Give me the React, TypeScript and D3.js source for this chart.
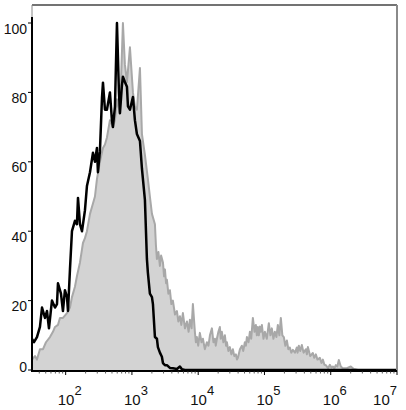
import React from "react";
import * as d3 from "d3";

// Histogram bins: log10(fluorescence intensity) and % of max
const grayLog10 = [1.492,1.537,1.567,1.612,1.658,1.703,1.763,1.808,1.839,1.884,1.914,1.959,2.02,2.065,2.095,2.14,2.17,2.216,2.261,2.291,2.321,2.367,2.412,2.442,2.472,2.517,2.563,2.593,2.623,2.668,2.713,2.744,2.774,2.819,2.864,2.894,2.925,2.97,3.015,3.045,3.075,3.121,3.151,3.196,3.241,3.271,3.302,
  3.347,3.362,3.377,3.4,3.422,3.44,3.468,3.485,3.498,3.515,3.528,3.55,3.573,3.595,3.618,3.65,3.679,3.7,3.724,3.745,3.769,3.8,3.83,3.855,3.875,3.9,3.92,3.95,3.965,3.98,4.0,4.025,4.05,4.071,4.1,4.131,4.155,4.177,4.207,4.23,4.252,4.265,4.282,4.305,4.327,4.34,4.357,4.38,4.403,4.42,4.433,4.455,4.478,4.5,4.523,4.545,4.569,4.585,4.599,4.63,4.659,4.68,4.704,4.72,4.735,4.76,4.78,4.8,4.825,4.85,4.87,4.885,4.9,4.915,4.931,4.945,4.961,4.985,5.006,5.035,5.066,5.09,5.111,5.135,5.157,5.18,5.202,5.225,5.247,5.27,5.292,5.315,5.338,5.36,5.383,5.405,5.428,5.46,5.489,5.5,5.519,5.54,5.564,5.59,5.624,5.64,5.655,5.69,5.73,5.75,5.775,5.8,5.836,5.86,5.881,5.905,5.926,5.96,5.987,6.01,6.032,6.055,6.077,6.1,6.122,6.152,6.182,6.243,6.303,6.348,6.409,7.0];
const grayPct = [3,4,3,6,6,8,9.5,11,12.4,13,15,15,16.4,18,21,24,27,31,36.6,38,40,45,48,50,55,60,64,65,67,72,70,72,78,74,100,88,83,93,80,76,75,87,68,62,55,50,45,
  42,36,32,34,30,33,31,27,29,25,26,22,23,19,20,16,17,14,15.5,13,16.4,12,14,11,14.5,12,19,11,8,9.5,7,10.7,8,9,6,8,7,10,12,8,9,7,9,11,12.4,9,11,8,10,7,8,5.5,6.6,4.5,6,4,4.5,3,3.5,6,7,5.5,8,7,9.5,8,11,9,15,11,13,10,12.4,10,12.5,11,13,9,11,9,13.5,10,12,9,11,9.5,13,10,15,10,9.5,7,8.5,6,6.5,5,5.8,5,6.5,5,7,5.5,7.2,5,6,4.5,6.6,4,4.9,3.5,4.5,3,3.5,2,3,1.5,1.4,0.5,1.5,0.7,1,0.5,1.4,1,2.9,1,0.5,0.5,1,0.3,0,0];

const blackLog10 = [1.492,1.522,1.567,1.612,1.643,1.688,1.718,1.748,1.793,1.839,1.869,1.884,1.929,1.959,1.989,2.02,2.035,2.065,2.095,2.14,2.17,2.186,2.216,2.246,2.291,2.321,2.367,2.412,2.442,2.472,2.487,2.517,2.548,2.563,2.593,2.623,2.668,2.698,2.713,2.744,2.774,2.804,2.819,2.849,2.864,2.894,2.925,2.94,2.97,3.015,3.045,3.075,3.121,3.151,3.196,3.226,3.241,3.271,3.302,3.317,3.347,3.377,3.392,3.422,3.452,3.468,3.498,3.528,3.573,3.618,3.679,3.724,3.754,3.799,7.0];
const blackPct = [9,8,9.5,12.4,18,15,17,12,20,18,19,25,22,17,23,21,17,29,40,43,42,49.6,42,40,46,53,57,62.6,60,64,57,63,78.4,82.8,75,75,80,72,70,76,100,80,74,82,84.5,83,81.6,76,75,78.7,72,68,66,58,49,32,28,22,21,19,9.5,9,6.6,5,3.8,2,1.4,1.4,0.6,0.5,0.3,1,0.2,0,0];

const yTicks = [0, 20, 40, 60, 80, 100];
const xDecades = [2, 3, 4, 5, 6, 7];

const W = 406, H = 410;
const L = 32, R = 397, T = 5, B = 371;

export default function App() {
  const x = d3.scaleLog().domain([Math.pow(10, 1.492), 1e7]).range([L, R]);
  const y = d3.scaleLinear().domain([0, 100]).range([370, 23]);

  const gray = grayLog10.map((l, i) => ({ v: Math.pow(10, l), p: grayPct[i] }));
  const black = blackLog10.map((l, i) => ({ v: Math.pow(10, l), p: blackPct[i] }));

  const area = d3.area<{ v: number; p: number }>()
    .x(d => x(d.v)).y0(y(0)).y1(d => y(d.p));
  const line = d3.line<{ v: number; p: number }>()
    .x(d => x(d.v)).y(d => y(d.p));

  const minor: number[] = [];
  for (let e = 1; e < 7; e++) {
    for (let m = 2; m <= 9; m++) {
      const v = m * Math.pow(10, e);
      if (v >= x.domain()[0] && v <= 1e7) minor.push(v);
    }
  }

  return (
    <svg width={W} height={H} style={{ position: "absolute", left: 0, top: 0, background: "#fff" }}
      fontFamily="'Liberation Sans', Arial, sans-serif">
      <defs>
        <clipPath id="plot">
          <rect x={L} y={T} width={R - L} height={B - T} />
        </clipPath>
      </defs>
      <g clipPath="url(#plot)">
        <path d={area(gray) || ""} fill="#d3d3d3" stroke="none" />
        <path d={line(gray) || ""} fill="none" stroke="#a8a8a8" strokeWidth={2} strokeLinejoin="round" />
        <path d={line(black) || ""} fill="none" stroke="#000" strokeWidth={2.5} strokeLinejoin="round" />
      </g>
      {/* frame */}
      <line x1={L} x2={R} y1={T} y2={T} stroke="#444" strokeWidth={1.5} />
      <line x1={R} x2={R} y1={T} y2={B} stroke="#8a8a8a" strokeWidth={2} />
      <line x1={L} x2={L} y1={T} y2={17} stroke="#888" strokeWidth={1} />
      {/* y axis */}
      <line x1={L} x2={L} y1={17} y2={B + 1} stroke="#000" strokeWidth={2} />
      {yTicks.map(t => (
        <g key={t}>
          <line x1={L - 4} x2={L} y1={y(t)} y2={y(t)} stroke="#000" strokeWidth={1} />
          <text x={27} y={Math.min(y(t) + 10.5, 372)} fontSize={14} textAnchor="end" fill="#111">{t}</text>
        </g>
      ))}
      {/* x axis */}
      <line x1={L - 1} x2={R} y1={B} y2={B} stroke="#000" strokeWidth={2} />
      {minor.map((v, i) => (
        <line key={i} x1={x(v)} x2={x(v)} y1={B} y2={B + 2.5} stroke="#333" strokeWidth={0.8} />
      ))}
      {xDecades.map(e => {
        const px = x(Math.pow(10, e));
        const endX = Math.min(px + 16, 397);
        return (
          <g key={e}>
            <line x1={px} x2={px} y1={B} y2={B + 4} stroke="#000" strokeWidth={1} />
            <text x={endX} y={405} fontSize={15} textAnchor="end" fill="#111">
              10<tspan fontSize={13} dy={-10}>{e}</tspan>
            </text>
          </g>
        );
      })}
    </svg>
  );
}
